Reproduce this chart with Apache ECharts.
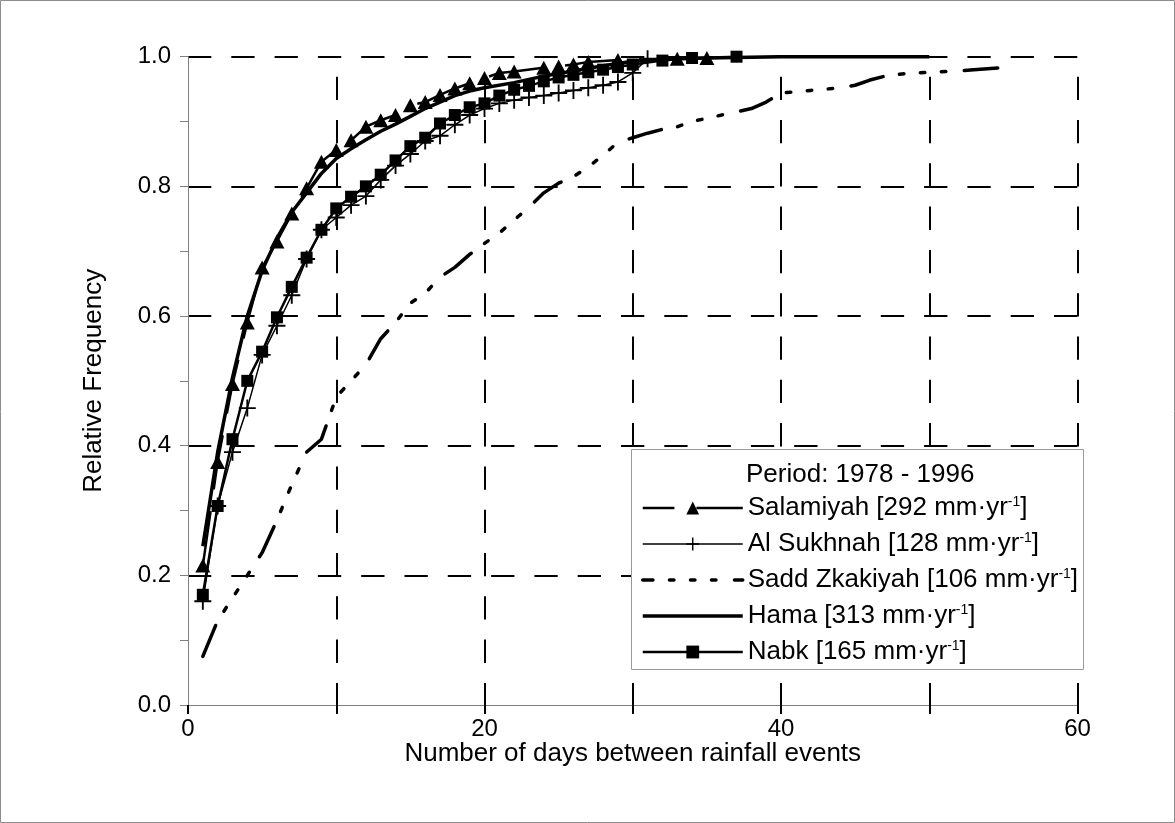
<!DOCTYPE html>
<html>
<head>
<meta charset="utf-8">
<script src="https://cdn.jsdelivr.net/npm/echarts@6/dist/echarts.min.js"></script>
<style>
  html, body { margin: 0; padding: 0; background: #ffffff; }
  #chart { width: 1175px; height: 823px; }
</style>
</head>
<body>
<div id="chart"></div>
<script>
// Cumulative relative frequency of dry spell length (days between rainfall events)
const legendTitle = 'Period: 1978 - 1996';
const stationNames = ['Salamiyah', 'Al Sukhnah', 'Sadd Zkakiyah', 'Hama', 'Nabk'];
const stationRain = [292, 128, 106, 313, 165];

const xTickLabels = ['0', '20', '40', '60'];
const yTickLabels = ['0.0', '0.2', '0.4', '0.6', '0.8', '1.0'];

const salamiyah = [
  [1, 0.215], [2, 0.375], [3, 0.495], [4, 0.59], [5, 0.675], [6, 0.715], [7, 0.758],
  [8, 0.797], [9, 0.838], [10, 0.856], [11, 0.871], [12, 0.892], [13, 0.902], [14, 0.91],
  [15, 0.925], [16, 0.93], [17, 0.941], [18, 0.951], [19, 0.959], [20, 0.967], [21, 0.975],
  [22, 0.977], [24, 0.983], [25, 0.985], [26, 0.988], [27, 0.992], [29, 0.995], [33, 0.997],
  [35, 0.998]
];
const alSukhnah = [
  [1, 0.16], [2, 0.307], [3, 0.39], [4, 0.458], [5, 0.54], [6, 0.585], [7, 0.632],
  [8, 0.688], [9, 0.733], [10, 0.752], [11, 0.771], [12, 0.785], [13, 0.81], [14, 0.832],
  [15, 0.85], [16, 0.87], [17, 0.878], [18, 0.895], [19, 0.91], [20, 0.92], [21, 0.928],
  [22, 0.933], [23, 0.937], [24, 0.94], [25, 0.944], [26, 0.948], [27, 0.952], [28, 0.956],
  [29, 0.961], [30, 0.975], [31, 0.997]
];
const saddZkakiyah = [
  [1, 0.075], [2, 0.13], [3, 0.165], [4, 0.2], [5, 0.235], [6, 0.285], [7, 0.34],
  [8, 0.39], [9, 0.41], [10, 0.475], [11, 0.5], [12, 0.525], [13, 0.565], [14, 0.59],
  [15, 0.62], [16, 0.635], [17, 0.66], [18, 0.675], [19, 0.695], [20, 0.712], [21, 0.728],
  [22, 0.748], [23, 0.768], [24, 0.79], [25, 0.805], [26, 0.815], [27, 0.83], [28, 0.848],
  [29, 0.868], [30, 0.875], [31, 0.882], [32, 0.888], [33, 0.892], [34, 0.9], [35, 0.905],
  [36, 0.91], [37, 0.915], [38, 0.92], [39, 0.93], [40, 0.944], [41, 0.946], [42, 0.948],
  [43, 0.95], [44, 0.952], [45, 0.956], [46, 0.964], [47, 0.97], [48, 0.973], [49, 0.975],
  [50, 0.976], [52, 0.978], [53, 0.98], [55, 0.983]
];
const hama = [
  [1, 0.245], [2, 0.39], [3, 0.505], [4, 0.6], [5, 0.67], [6, 0.72], [7, 0.76],
  [8, 0.79], [9, 0.82], [10, 0.843], [11, 0.858], [12, 0.872], [13, 0.885], [14, 0.896],
  [15, 0.908], [16, 0.92], [17, 0.93], [18, 0.94], [19, 0.947], [20, 0.952], [22, 0.96],
  [24, 0.97], [26, 0.978], [28, 0.986], [30, 0.993], [32, 0.996], [35, 0.998], [40, 1.0],
  [50, 1.0]
];
const nabk = [
  [1, 0.17], [2, 0.307], [3, 0.41], [4, 0.5], [5, 0.545], [6, 0.598], [7, 0.645],
  [8, 0.69], [9, 0.733], [10, 0.766], [11, 0.784], [12, 0.8], [13, 0.818], [14, 0.84],
  [15, 0.862], [16, 0.875], [17, 0.897], [18, 0.91], [19, 0.922], [20, 0.928], [21, 0.94],
  [22, 0.949], [23, 0.955], [24, 0.962], [25, 0.968], [26, 0.972], [27, 0.976], [28, 0.98],
  [29, 0.984], [30, 0.988], [32, 0.994], [34, 0.998], [37, 1.0]
];

const FONT = '"Liberation Sans", Arial, sans-serif';
const FS = 26;       // titles and legend
const FS_TICK = 24;  // tick labels
const gridDash = { type: [23.3, 20], width: 2, color: '#000' };
const plusSymbol = 'path://M-1,-0.11H1V0.11H-1Z M-0.11,-1H0.11V1H-0.11Z';

// line styles per station
const dashSalamiyah = [55, 22];
const dashSadd = [33.5, 16.5, 4.5, 16.5, 4.5, 16.5, 4.5, 18.5];

const chart = echarts.init(document.getElementById('chart'), null, { renderer: 'canvas' });

function legendLabel(i) {
  return stationNames[i] + ' [' + stationRain[i] + ' mm\u00b7yr{sup|-1}]';
}

const option = {
  animation: false,
  backgroundColor: '#ffffff',
  textStyle: { fontFamily: FONT, color: '#000' },
  grid: { left: 188, top: 56.7, width: 889.5, height: 648.3, containLabel: false },
  xAxis: {
    type: 'value', min: 0, max: 60, interval: 10,
    name: 'Number of days between rainfall events',
    nameLocation: 'middle', nameGap: 36, nameMoveOverlap: false,
    nameTextStyle: { fontFamily: FONT, fontSize: FS, color: '#000' },
    axisLine: { show: true, onZero: false, lineStyle: { color: '#808080', width: 1 } },
    axisTick: { show: true, inside: false, length: 9, lineStyle: { color: '#000', width: 2 } },
    axisLabel: {
      margin: 12, fontFamily: FONT, fontSize: FS_TICK, color: '#000',
      formatter: function (v) {
        const k = xTickLabels.indexOf(String(Math.round(v)));
        return k >= 0 ? xTickLabels[k] : '';
      }
    },
    splitLine: { show: true, showMinLine: false, lineStyle: Object.assign({ dashOffset: 23.3 }, gridDash) }
  },
  yAxis: {
    type: 'value', min: 0, max: 1, interval: 0.2,
    name: 'Relative Frequency',
    nameLocation: 'middle', nameGap: 81, nameRotate: 90, nameMoveOverlap: false,
    nameTextStyle: { fontFamily: FONT, fontSize: FS, color: '#000' },
    axisLine: { show: true, onZero: false, lineStyle: { color: '#808080', width: 1 } },
    axisTick: { show: true, inside: false, length: 8, lineStyle: { color: '#808080', width: 1 } },
    minorTick: { show: true, splitNumber: 2, length: 8, lineStyle: { color: '#808080', width: 1 } },
    axisLabel: {
      margin: 17, fontFamily: FONT, fontSize: FS_TICK, color: '#000',
      formatter: function (v) {
        const k = Math.round(v / 0.2);
        return yTickLabels[k] !== undefined ? yTickLabels[k] : '';
      }
    },
    splitLine: { show: true, showMinLine: false, lineStyle: gridDash }
  },
  legend: {
    orient: 'vertical', left: 641, top: 495, padding: 0,
    itemWidth: 100, itemHeight: 16, itemGap: 10,
    z: 6,
    data: [
      { name: stationNames[0], lineStyle: { width: 2.5, type: dashSalamiyah } },
      { name: stationNames[1], lineStyle: { width: 1.5 } },
      { name: stationNames[2], itemStyle: { opacity: 0 }, lineStyle: { width: 3.5, cap: 'round', type: dashSadd } },
      { name: stationNames[3], itemStyle: { opacity: 0 }, lineStyle: { width: 3.5 } },
      { name: stationNames[4], lineStyle: { width: 2.5 } }
    ],
    formatter: function (name) { return legendLabel(stationNames.indexOf(name)); },
    textStyle: {
      fontFamily: FONT, fontSize: FS, color: '#000', lineHeight: 26,
      rich: { sup: { fontFamily: FONT, fontSize: 14, lineHeight: 26, verticalAlign: 'top', color: '#000' } }
    }
  },
  graphic: [
    { type: 'rect', z: 0, silent: true,
      shape: { x: 0.5, y: 0.5, width: 1174, height: 822 },
      style: { fill: 'none', stroke: '#8c8c8c', lineWidth: 1 } },
    { type: 'rect', z: 5, silent: true,
      shape: { x: 631.5, y: 449.5, width: 452, height: 220 },
      style: { fill: '#ffffff', stroke: '#9a9a9a', lineWidth: 1 } },
    { type: 'text', z: 6, silent: true, left: 746, top: 462,
      style: { text: legendTitle, fontFamily: FONT, fontSize: FS, fill: '#000' } }
  ],
  series: [
    {
      name: stationNames[0], type: 'line', data: salamiyah, z: 3,
      symbol: 'triangle', symbolSize: [15, 14], showAllSymbol: true,
      lineStyle: { color: '#000', width: 2.5, type: dashSalamiyah },
      itemStyle: { color: '#000' }
    },
    {
      name: stationNames[1], type: 'line', data: alSukhnah, z: 3,
      symbol: plusSymbol, symbolSize: 17, showAllSymbol: true,
      lineStyle: { color: '#000', width: 1.5 },
      itemStyle: { color: '#000' }
    },
    {
      name: stationNames[2], type: 'line', data: saddZkakiyah, z: 3,
      symbol: 'none',
      lineStyle: { color: '#000', width: 3.5, cap: 'round', type: dashSadd },
      itemStyle: { color: '#000' }
    },
    {
      name: stationNames[3], type: 'line', data: hama, z: 3,
      symbol: 'none',
      lineStyle: { color: '#000', width: 3.5 },
      itemStyle: { color: '#000' }
    },
    {
      name: stationNames[4], type: 'line', data: nabk, z: 3,
      symbol: 'rect', symbolSize: 12, showAllSymbol: true,
      lineStyle: { color: '#000', width: 2.5 },
      itemStyle: { color: '#000' }
    }
  ]
};

chart.setOption(option);
</script>
</body>
</html>
